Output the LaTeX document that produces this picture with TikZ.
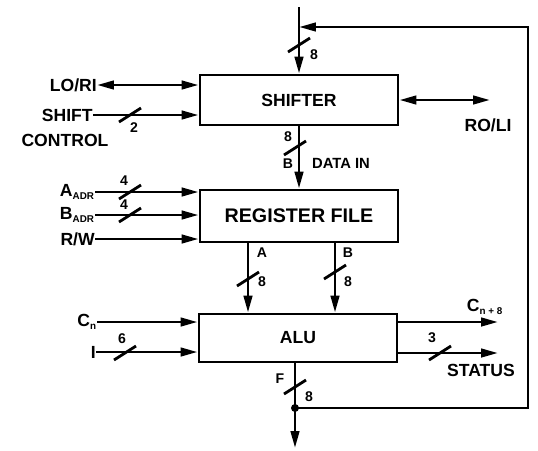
\documentclass[tikz,border=0pt]{standalone}
\usepackage{fontspec}
\setmainfont{Liberation Sans}
\usepackage{tikz}
\usetikzlibrary{arrows.meta,positioning}

\begin{document}
\begin{tikzpicture}[
        x=0.025cm,
        y=-0.025cm,
        >={Triangle[length=12pt,width=6pt]},
        font=\fontsize{12.5}{13}\selectfont\bfseries,
        box/.style={
            draw,
            line width=2pt,
            minimum width=4.95cm,
            inner sep=0pt
        },
        sig/.style={inner sep=0pt},
        num/.style={inner sep=0pt, font=\fontsize{10}{11}\selectfont\bfseries},
        flow/.style={->, line width=2pt},
        both/.style={<->, line width=2pt},
        tick/.style={line width=2pt}
    ]
        \useasboundingbox (0,0) rectangle (538,450);

        % Three blocks of the slice, top to bottom.
        \node[box, minimum height=1.25cm] (shifter) at (299,100) {SHIFTER};
        \node[box, minimum height=1.3cm, font=\fontsize{14}{15}\selectfont\bfseries] (regfile) at (299,216) {REGISTER FILE};
        \node[box, minimum height=1.2cm] (alu) at (298,338) {ALU};

        % Signal names on the left.
        \node[sig, anchor=east] (lori) at (97,85) {LO/RI};
        \node[sig, anchor=east] (shiftctl) at (93,115) {SHIFT};
        \node[sig] (ctlword) at (65,140) {CONTROL};
        \node[sig, anchor=east] (aadr) at (95,192) {A\textsubscript{\fontsize{7}{7}\selectfont ADR}};
        \node[sig, anchor=east] (badr) at (95,215) {B\textsubscript{\fontsize{7}{7}\selectfont ADR}};
        \node[sig, anchor=east] (rw) at (95,239) {R/W};
        \node[sig, anchor=east] (cin) at (97,322) {C\textsubscript{\fontsize{7}{7}\selectfont n}};
        \node[sig, anchor=east] (iin) at (96,352) {I};

        % Signal names on the right.
        \node[sig] (roli) at (488,125) {RO/LI};
        \node[sig] (cout) at (485,307) {C\textsubscript{\fontsize{7}{7}\selectfont n + 8}};
        \node[sig] (status) at (481,370) {STATUS};
        \node[sig, font=\fontsize{10.5}{11}\selectfont\bfseries] (datain) at (341,163) {DATA IN};

        % Free ends and bends.
        \coordinate (topstub) at (299,7);
        \coordinate (fbright) at (528,27);
        \coordinate (roliend) at (490,100);
        \coordinate (coutend) at (498,322);
        \coordinate (statend) at (498,353);
        \coordinate (abus) at (248,242);
        \coordinate (bbus) at (335,242);
        \coordinate (fjoin) at (295,408);
        \coordinate (fend) at (295,448);

        \draw[flow] (topstub) -- (shifter.north);
        \draw[flow] (fjoin) -- (fbright |- fjoin) -- (fbright) -- (topstub |- fbright);
        \draw[both] (lori.east) -- (lori.east -| shifter.west);
        \draw[flow] (shiftctl.east) -- (shiftctl.east -| shifter.west);
        \draw[both] (shifter.east |- roliend) -- (roliend);
        \draw[flow] (shifter.south) -- (regfile.north);
        \draw[flow] (aadr.east) -- (aadr.east -| regfile.west);
        \draw[flow] (badr.east) -- (badr.east -| regfile.west);
        \draw[flow] (rw.east) -- (rw.east -| regfile.west);
        \draw[flow] (abus) -- (abus |- alu.north);
        \draw[flow] (bbus) -- (bbus |- alu.north);
        \draw[flow] (cin.east) -- (cin.east -| alu.west);
        \draw[flow] (iin.east) -- (iin.east -| alu.west);
        \draw[flow] (alu.east |- coutend) -- (coutend);
        \draw[flow] (alu.east |- statend) -- (statend);
        \draw[flow] (alu.south -| fjoin) -- (fend);
        \fill (fjoin) circle (4);

        % Bus width marks.
        \foreach \bx/\by in {299/45, 130/115, 295/148, 130/192, 130/215, 248/279, 335/272, 125/353, 440/353, 295/387}
            \draw[tick] (\bx-11,\by+7) -- (\bx+11,\by-7);

        \node[num] (wtop) at (314,55) {8};
        \node[num] (wshift) at (134,128) {2};
        \node[num] (wdin) at (288,137) {8};
        \node[num] (pdin) at (288,164) {B};
        \node[num] (waadr) at (124,181) {4};
        \node[num] (wbadr) at (124,205) {4};
        \node[num] (pa) at (262,253) {A};
        \node[num] (wa) at (262,282) {8};
        \node[num] (pb) at (348,253) {B};
        \node[num] (wb) at (348,282) {8};
        \node[num] (wi) at (122,339) {6};
        \node[num] (wstat) at (432,338) {3};
        \node[num] (pf) at (280,379) {F};
        \node[num] (wf) at (309,397) {8};

    \end{tikzpicture}
\end{document}
